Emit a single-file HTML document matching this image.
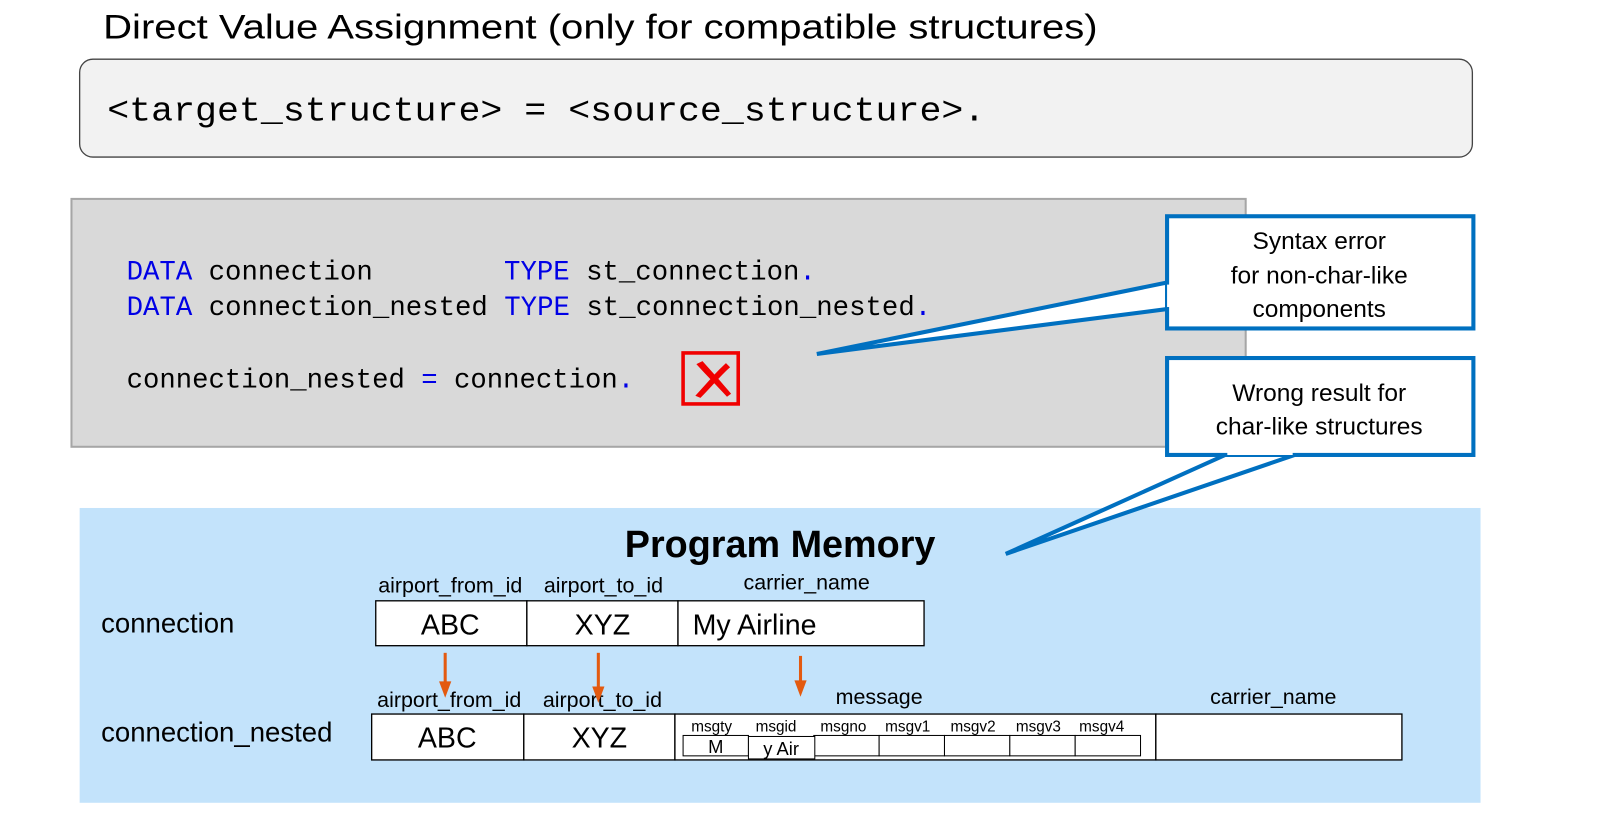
<!DOCTYPE html>
<html><head><meta charset="utf-8"><style>
html,body{margin:0;padding:0;background:#fff;width:1600px;height:814px;overflow:hidden}
svg{display:block}
.a{font-family:"Liberation Sans",Arial,sans-serif}
.m{font-family:"Liberation Mono",monospace;white-space:pre}
</style></head><body>
<svg width="1600" height="814" viewBox="0 0 1567 798" preserveAspectRatio="none" xmlns="http://www.w3.org/2000/svg">
<text class="a" x="101" y="38" font-size="34" textLength="974" lengthAdjust="spacingAndGlyphs">Direct Value Assignment (only for compatible structures)</text>
<rect x="78" y="58" width="1364" height="96" rx="13" fill="#f2f2f2" stroke="#444" stroke-width="1.3"/>
<text class="m" x="105" y="118" font-size="34" textLength="860" lengthAdjust="spacingAndGlyphs">&lt;target_structure&gt; = &lt;source_structure&gt;.</text>

<rect x="70" y="195" width="1150" height="243" fill="#d9d9d9" stroke="#a6a6a6" stroke-width="2"/>
<g class="m" font-size="27">
<text x="124" y="274" xml:space="preserve" textLength="675" lengthAdjust="spacingAndGlyphs"><tspan fill="#0000e6">DATA</tspan> connection        <tspan fill="#0000e6">TYPE</tspan> st_connection<tspan fill="#0000e6">.</tspan></text>
<text x="124" y="309" textLength="788" lengthAdjust="spacingAndGlyphs"><tspan fill="#0000e6">DATA</tspan> connection_nested <tspan fill="#0000e6">TYPE</tspan> st_connection_nested<tspan fill="#0000e6">.</tspan></text>
<text x="124" y="380" textLength="497" lengthAdjust="spacingAndGlyphs">connection_nested <tspan fill="#0000e6">=</tspan> connection<tspan fill="#0000e6">.</tspan></text>
</g>
<rect x="669" y="346" width="54" height="50" fill="none" stroke="#f00000" stroke-width="3.5"/>
<path d="M682,357 C690,366 700,376 712,389 L716,386 C706,374 697,364 688,354 Z M711,356 C702,364 692,376 681,388 L686,390 C696,380 706,368 715,360 Z" fill="#f00000"/>

<rect x="78" y="498" width="1372" height="289" fill="#c3e3fb"/>

<polygon points="1143,277 800,347 1143,303" fill="#fff" stroke="#0070c0" stroke-width="4"/>
<rect x="1143" y="212" width="300" height="110" fill="#fff" stroke="#0070c0" stroke-width="4"/>
<line x1="1145" y1="279" x2="1145" y2="301" stroke="#fff" stroke-width="4"/>
<g class="a" font-size="24" text-anchor="middle">
<text x="1292" y="244">Syntax error</text>
<text x="1292" y="278">for non-char-like</text>
<text x="1292" y="311">components</text>
</g>
<polygon points="1200,446 985,543 1268,446" fill="#fff" stroke="#0070c0" stroke-width="4"/>
<rect x="1143" y="351" width="300" height="95" fill="#fff" stroke="#0070c0" stroke-width="4"/>
<line x1="1202" y1="444" x2="1266" y2="444" stroke="#fff" stroke-width="4"/>
<g class="a" font-size="24" text-anchor="middle">
<text x="1292" y="393">Wrong result for</text>
<text x="1292" y="426">char-like structures</text>
</g>

<text class="a" x="764" y="546" font-size="37" font-weight="bold" text-anchor="middle">Program Memory</text>
<g class="a" font-size="27">
<text x="99" y="620">connection</text>
<text x="99" y="727">connection_nested</text>
</g>
<g class="a" font-size="21" text-anchor="middle">
<text x="441" y="581">airport_from_id</text>
<text x="591" y="581">airport_to_id</text>
<text x="790" y="578">carrier_name</text>
<text x="440" y="693">airport_from_id</text>
<text x="590" y="693">airport_to_id</text>
<text x="861" y="690">message</text>
<text x="1247" y="690">carrier_name</text>
</g>
<g fill="#fff" stroke="#000" stroke-width="1.3">
<rect x="368" y="589" width="148" height="44"/>
<rect x="516" y="589" width="148" height="44"/>
<rect x="664" y="589" width="241" height="44"/>
<rect x="364" y="700" width="149" height="45"/>
<rect x="513" y="700" width="148" height="45"/>
<rect x="661" y="700" width="471" height="45"/>
<rect x="1132" y="700" width="241" height="45"/>
</g>
<g class="a" font-size="28" text-anchor="middle">
<text x="441" y="622">ABC</text>
<text x="590" y="622">XYZ</text>
<text x="739" y="622">My Airline</text>
<text x="438" y="733">ABC</text>
<text x="587" y="733">XYZ</text>
</g>
<g class="a" font-size="15" text-anchor="middle">
<text x="697" y="717">msgty</text>
<text x="760" y="717">msgid</text>
<text x="826" y="717">msgno</text>
<text x="889" y="717">msgv1</text>
<text x="953" y="717">msgv2</text>
<text x="1017" y="717">msgv3</text>
<text x="1079" y="717">msgv4</text>
</g>
<g fill="#fff" stroke="#000" stroke-width="1">
<rect x="669" y="721" width="64" height="20"/>
<rect x="797" y="721" width="64" height="20"/>
<rect x="861" y="721" width="64" height="20"/>
<rect x="925" y="721" width="64" height="20"/>
<rect x="989" y="721" width="64" height="20"/>
<rect x="1053" y="721" width="64" height="20"/>
<rect x="733" y="722" width="65" height="22"/>
</g>
<g class="a" font-size="18" text-anchor="middle">
<text x="701" y="738">M</text>
<text x="765" y="740">y Air</text>
</g>
<g stroke="#e35a10" stroke-width="3">
<line x1="436" y1="640" x2="436" y2="670"/>
<line x1="586" y1="640" x2="586" y2="675"/>
<line x1="784" y1="643" x2="784" y2="669"/>
</g>
<g fill="#e35a10">
<polygon points="430,668 442,668 436,684"/>
<polygon points="580,673 592,673 586,689"/>
<polygon points="778,667 790,667 784,683"/>
</g>
</svg>
</body></html>
